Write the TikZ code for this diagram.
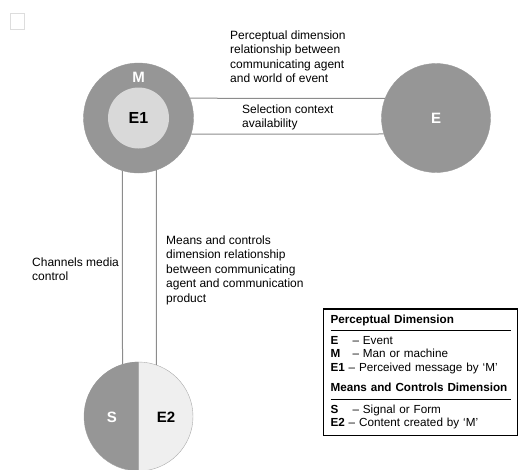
\documentclass[tikz,border=0pt]{standalone}
\usepackage{fontspec}
\setmainfont{Liberation Sans}
\usetikzlibrary{positioning}
\definecolor{ringgray}{HTML}{969696}
\definecolor{innergray}{HTML}{D9D9D9}
\definecolor{palegray}{HTML}{EFEFEF}
\definecolor{linegray}{HTML}{8C8C8C}
\definecolor{cornergray}{HTML}{DDDDDD}

\newcommand{\keyitem}[2]{\makebox[22pt][l]{\textbf{#1}}-- #2}

\tikzset{
  disc/.style={circle, fill=ringgray, draw=ringgray, inner sep=0pt},
  letter/.style={font=\fontsize{15}{18}\selectfont\bfseries, inner sep=0pt},
  note/.style={align=left, font=\fontsize{12}{14.5}\selectfont, inner sep=0pt, anchor=north west},
  link/.style={draw=linegray, line width=1pt},
  keybox/.style={draw, line width=1.5pt, text width=180pt, inner xsep=7pt,
                 inner ysep=6.5pt, anchor=north west,
                 font=\fontsize{11.7}{13.5}\selectfont}
}

\begin{document}
\begin{tikzpicture}[x=1pt, y=-1pt]
  \useasboundingbox (0,0) rectangle (518,469);

  \node[draw=cornergray, minimum width=14pt, minimum height=16pt, anchor=north west] (corner) at (10,13) {};

  % circles
  \node[disc, minimum size=110pt] (M) at (138.5,118) {};
  \node[circle, fill=innergray, inner sep=0pt, minimum size=61pt] (E1) at (M.center) {};
  \node[disc, minimum size=109pt] (E) at (436,118) {};
  \node[circle, fill=palegray, draw=ringgray!80, inner sep=0pt, minimum size=109pt] (SE) at (138.5,416.5) {};
  \fill[ringgray] (SE.north) arc (90:270:54.5pt) -- cycle;
  \draw[ringgray!80] (SE.north) -- (SE.south);

  \node[letter, text=white] (Mlabel) at (138.5,77) {M};
  \node[letter, font=\fontsize{16}{18}\selectfont\bfseries] (E1label) at (E1.center) {E1};
  \node[letter, text=white] (Elabel) at (E.center) {E};
  \node[letter, text=white] (Slabel) at (112,417) {S};
  \node[letter] (E2label) at (166,417) {E2};

  % connectors
  \draw[link] (M.21) -- (E.159);
  \draw[link] (M.-17) -- (E.-163);
  \draw[link] (M.-107.5) -- (SE.107.6);
  \draw[link] (M.-71.5) -- (SE.71.3);

  % notes
  \node[note] (perc) at (230,30.5) {Perceptual dimension\\relationship between\\communicating agent\\and world of event};
  \node[note] (sel) at (242,104.5) {Selection context\\availability};
  \node[note] (chan) at (32,257.5) {Channels media\\control};
  \node[note] (means) at (166,235.5) {Means and controls\\dimension relationship\\between communicating\\agent and communication\\product};

  % key
  \node[keybox] (key) at (322.75,308) {%
    \mbox{\textbf{Perceptual Dimension}}\\[-7pt]
    \rule{\linewidth}{0.6pt}\\[0.5pt]
    \keyitem{E}{Event}\\
    \keyitem{M}{Man or machine}\\
    \textbf{E1} -- Perceived message by `M'\\[7pt]
    \mbox{\textbf{Means and Controls Dimension}}\\[-6pt]
    \rule{\linewidth}{0.6pt}\\[0.5pt]
    \keyitem{S}{Signal or Form}\\
    \textbf{E2} -- Content created by `M'};
\end{tikzpicture}
\end{document}
